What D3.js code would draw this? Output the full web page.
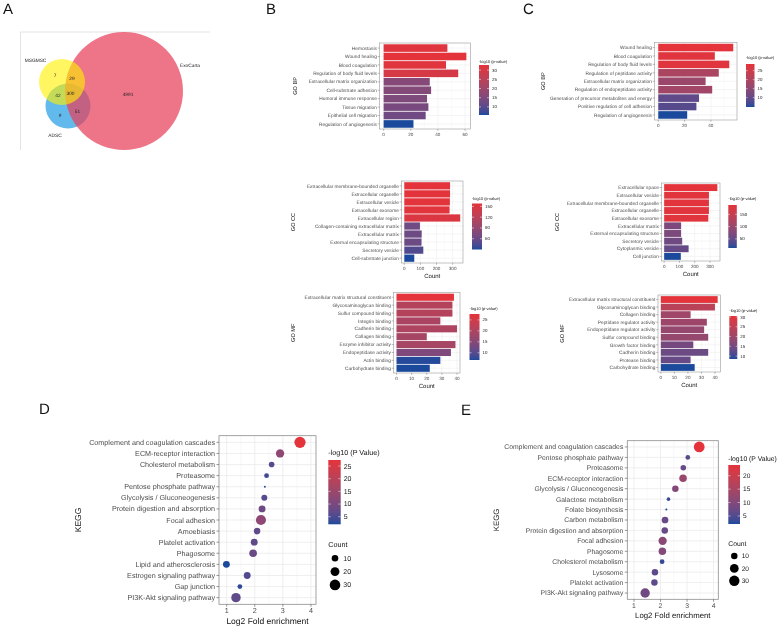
<!DOCTYPE html>
<html>
<head>
<meta charset="utf-8">
<script src="https://cdn.jsdelivr.net/npm/d3@7"></script>
<style>
  body { margin: 0; background: #fff; }
  svg { display: block; font-family: "Liberation Sans", Arial, Helvetica, sans-serif;
        -webkit-font-smoothing: antialiased; text-rendering: geometricPrecision; will-change: transform; }
</style>
</head>
<body>
<svg id="fig" width="781" height="628"></svg>
<script>
// ---- data ----
const vennSets = ["MSGMSC", "ADSC", "ExoCarta"];
const vennCounts = [7, 29, 42, 300, 9, 51, 4991]; // M only, M&E, M&A, all, A only, A&E, E only

const bpB_terms = ["Hemostasis", "Wound healing", "Blood coagulation", "Regulation of body fluid levels",
  "Extracellular matrix organization", "Cell-substrate adhesion", "Humoral immune response",
  "Tissue migration", "Epithelial cell migration", "Regulation of angiogenesis"];
const bpB_count = [47, 61, 46, 55, 34, 35, 32, 33, 31, 22];
const bpB_logp = [32, 32.8, 32, 30, 16, 15.5, 15, 14, 13, 5.6];

const ccB_terms = ["Extracellular membrane-bounded organelle", "Extracellular organelle", "Extracellular vesicle",
  "Extracellular exosome", "Extracellular region", "Collagen-containing extracellular matrix",
  "Extracellular matrix", "External encapsulating structure", "Secretory vesicle", "Cell-substrate junction"];
const ccB_count = [284, 284, 283, 281, 347, 97, 108, 107, 118, 62];
const ccB_logp = [158, 157, 157, 156, 150, 64, 63, 62, 48, 30];

const mfB_terms = ["Extracellular matrix structural constituent", "Glycosaminoglycan binding", "Sulfur compound binding",
  "Integrin binding", "Cadherin binding", "Collagen binding", "Enzyme inhibitor activity",
  "Endopeptidase activity", "Actin binding", "Carbohydrate binding"];
const mfB_count = [38, 37, 37, 29, 40, 20, 39, 36, 29, 22];
const mfB_logp = [27.7, 21, 21, 19.5, 20, 19, 19, 14, 7, 6.7];

const bpC_terms = ["Wound healing", "Blood coagulation", "Regulation of body fluid levels",
  "Regulation of peptidase activity", "Extracellular matrix organization", "Regulation of endopeptidase activity",
  "Generation of precursor metabolites and energy", "Positive regulation of cell adhesion", "Regulation of angiogenesis"];
const bpC_count = [57, 43, 54, 46, 36, 41, 31, 29, 22];
const bpC_logp = [28.7, 28, 28, 19.5, 17, 18, 9.5, 8.5, 4.8];

const ccC_terms = ["Extracellular space", "Extracellular vesicle", "Extracellular membrane-bounded organelle",
  "Extracellular organelle", "Extracellular exosome", "Extracellular matrix", "External encapsulating structure",
  "Secretory vesicle", "Cytoplasmic vesicle", "Cell junction"];
const ccC_count = [348, 293, 293, 293, 289, 111, 111, 118, 160, 109];
const ccC_logp = [188, 185, 185, 185, 184, 72, 71, 60, 52, 13];

const mfC_terms = ["Extracellular matrix structural constituent", "Glycosaminoglycan binding", "Collagen binding",
  "Peptidase regulator activity", "Endopeptidase regulator activity", "Sulfur compound binding",
  "Growth factor binding", "Cadherin binding", "Protease binding", "Carbohydrate binding"];
const mfC_count = [42, 40, 22, 34, 32, 35, 24, 35, 22, 25];
const mfC_logp = [30.5, 24, 20.5, 20, 19, 19, 15, 14, 13.5, 8.5];

const keggD_terms = ["Complement and coagulation cascades", "ECM-receptor interaction", "Cholesterol metabolism",
  "Proteasome", "Pentose phosphate pathway", "Glycolysis / Gluconeogenesis", "Protein digestion and absorption",
  "Focal adhesion", "Amoebiasis", "Platelet activation", "Phagosome", "Lipid and atherosclerosis",
  "Estrogen signaling pathway", "Gap junction", "PI3K-Akt signaling pathway"];
const keggD_fold = [3.61, 2.90, 2.60, 2.42, 2.36, 2.34, 2.26, 2.22, 2.08, 1.98, 1.94, 0.99, 1.73, 1.47, 1.33];
const keggD_count = [34, 17, 7, 5, 2, 8, 11, 27, 10, 11, 14, 11, 11, 5, 23];
const keggD_logp = [27.4, 13, 6, 4, 3, 6, 8.5, 13, 7, 7, 8, 2, 5.5, 3, 7];

const keggE_terms = ["Complement and coagulation cascades", "Pentose phosphate pathway", "Proteasome",
  "ECM-receptor interaction", "Glycolysis / Gluconeogenesis", "Galactose metabolism", "Folate biosynthesis",
  "Carbon metabolism", "Protein digestion and absorption", "Focal adhesion", "Phagosome",
  "Cholesterol metabolism", "Lysosome", "Platelet activation", "PI3K-Akt signaling pathway"];
const keggE_fold = [3.46, 3.03, 2.86, 2.85, 2.56, 2.30, 2.22, 2.17, 2.16, 2.08, 2.07, 2.06, 1.79, 1.77, 1.42];
const keggE_count = [33, 5, 7, 14, 10, 3, 2, 11, 10, 18, 14, 5, 10, 10, 24];
const keggE_logp = [24, 6, 7, 13, 10, 3, 2, 7, 7, 11, 10, 3, 6, 6, 8];

const sizeBreaks = [10, 20, 30];

// ---- helpers ----
const svg = d3.select("#fig");
const defs = svg.append("defs");
const lowCol = "#1b4a9c", highCol = "#e4333b";
const gridCol = "#ebebeb", textCol = "#4d4d4d";
let gradN = 0;

const colorScale = vals => d3.scaleLinear().domain(d3.extent(vals))
  .range([lowCol, highCol]).interpolate(d3.interpolateLab);

function colorbar(g, col, o) {
  const dom = col.domain();
  const y = d3.scaleLinear().domain(dom).range([o.y1, o.y0]);
  const id = "grad" + (gradN++);
  const lg = defs.append("linearGradient").attr("id", id)
    .attr("x1", 0).attr("x2", 0).attr("y1", 1).attr("y2", 0);
  d3.range(0, 1.0001, 0.05).forEach(t =>
    lg.append("stop").attr("offset", t).attr("stop-color", col(dom[0] + t * (dom[1] - dom[0]))));
  g.append("text").attr("x", o.x).attr("y", o.titleY).attr("dy", "0.35em")
    .attr("font-size", o.tfs).attr("fill", "#111").text(o.title);
  g.append("rect").attr("x", o.x).attr("y", o.y0).attr("width", o.w).attr("height", o.y1 - o.y0)
    .attr("fill", `url(#${id})`);
  o.ticks.forEach(v => {
    const yy = y(v);
    g.append("line").attr("x1", o.x).attr("x2", o.x + o.w * 0.2).attr("y1", yy).attr("y2", yy)
      .attr("stroke", "#fff").attr("stroke-width", 0.5);
    g.append("line").attr("x1", o.x + o.w * 0.8).attr("x2", o.x + o.w).attr("y1", yy).attr("y2", yy)
      .attr("stroke", "#fff").attr("stroke-width", 0.5);
    g.append("text").attr("x", o.x + o.w + o.gap).attr("y", yy).attr("dy", "0.35em")
      .attr("font-size", o.lfs).attr("fill", "#222").text(v);
  });
}

function minorOf(major, dom) {
  const step = major[1] - major[0];
  return [major[0] - step / 2].concat(major.map(v => v + step / 2))
    .filter(v => v > dom[0] && v < dom[1]);
}

function barPanel(o) {
  const g = svg.append("g");
  const max = d3.max(o.count);
  const x = d3.scaleLinear().domain([-0.05 * max, 1.05 * max]).range([o.x0, o.x1]);
  const y = d3.scaleBand().domain(o.terms).range([o.y0, o.y1]).paddingInner(0.1).paddingOuter(0.15);
  const col = colorScale(o.logp);
  const major = x.ticks(4);
  g.append("rect").attr("x", o.x0).attr("y", o.y0).attr("width", o.x1 - o.x0).attr("height", o.y1 - o.y0)
    .attr("fill", "#fff");
  minorOf(major, x.domain()).forEach(v => g.append("line").attr("x1", x(v)).attr("x2", x(v))
    .attr("y1", o.y0).attr("y2", o.y1).attr("stroke", "#f3f3f3").attr("stroke-width", 0.3));
  major.forEach(v => g.append("line").attr("x1", x(v)).attr("x2", x(v))
    .attr("y1", o.y0).attr("y2", o.y1).attr("stroke", gridCol).attr("stroke-width", 0.5));
  o.terms.forEach(t => g.append("line").attr("x1", o.x0).attr("x2", o.x1)
    .attr("y1", y(t) + y.bandwidth() / 2).attr("y2", y(t) + y.bandwidth() / 2)
    .attr("stroke", gridCol).attr("stroke-width", 0.5));
  g.selectAll(".bar").data(o.terms).enter().append("rect")
    .attr("x", x(0)).attr("y", d => y(d))
    .attr("width", (d, i) => x(o.count[i]) - x(0)).attr("height", y.bandwidth())
    .attr("fill", (d, i) => col(o.logp[i]));
  g.append("rect").attr("x", o.x0).attr("y", o.y0).attr("width", o.x1 - o.x0).attr("height", o.y1 - o.y0)
    .attr("fill", "none").attr("stroke", "#9a9a9a").attr("stroke-width", 0.6);
  // y labels
  o.terms.forEach(t => {
    const yy = y(t) + y.bandwidth() / 2;
    g.append("line").attr("x1", o.x0 - 1.8).attr("x2", o.x0).attr("y1", yy).attr("y2", yy)
      .attr("stroke", "#555").attr("stroke-width", 0.4);
    g.append("text").attr("x", o.x0 - 2.6).attr("y", yy).attr("dy", "0.35em").attr("text-anchor", "end")
      .attr("font-size", 4.8).attr("fill", textCol).text(t);
  });
  major.forEach(v => {
    g.append("line").attr("x1", x(v)).attr("x2", x(v)).attr("y1", o.y1).attr("y2", o.y1 + 1.8)
      .attr("stroke", "#555").attr("stroke-width", 0.4);
    g.append("text").attr("x", x(v)).attr("y", o.y1 + 5.5).attr("dy", "0.35em").attr("text-anchor", "middle")
      .attr("font-size", 4.6).attr("fill", textCol).text(v);
  });
  if (o.showCount) {
    g.append("text").attr("x", (o.x0 + o.x1) / 2).attr("y", o.y1 + 13).attr("dy", "0.35em")
      .attr("text-anchor", "middle").attr("font-size", 6).attr("fill", "#111").text("Count");
  }
  g.append("text").attr("transform", `translate(${o.titleX},${(o.y0 + o.y1) / 2}) rotate(-90)`)
    .attr("dy", "0.35em").attr("text-anchor", "middle").attr("font-size", 5.6).attr("fill", "#111").text(o.title);
  colorbar(g, col, Object.assign({ title: "-log10 (p-value)", tfs: 4, lfs: 4.4, gap: 3 }, o.leg));
}

function dotPanel(o) {
  const g = svg.append("g");
  const x = d3.scaleLinear().domain(o.xdom).range([o.x0, o.x1]);
  const y = d3.scalePoint().domain(o.terms).range([o.y0, o.y1]).padding(0.6);
  const col = colorScale(o.logp);
  const cExt = d3.extent(o.count);
  const rLin = d3.scaleLinear().domain([0, 1]).range([1, o.rmax]);
  const r = c => rLin(Math.sqrt((c - cExt[0]) / (cExt[1] - cExt[0])));
  const major = [1, 2, 3, 4];
  g.append("rect").attr("x", o.x0).attr("y", o.y0).attr("width", o.x1 - o.x0).attr("height", o.y1 - o.y0)
    .attr("fill", "#fff");
  minorOf(major, x.domain()).forEach(v => g.append("line").attr("x1", x(v)).attr("x2", x(v))
    .attr("y1", o.y0).attr("y2", o.y1).attr("stroke", "#f2f2f2").attr("stroke-width", 0.5));
  major.forEach(v => g.append("line").attr("x1", x(v)).attr("x2", x(v))
    .attr("y1", o.y0).attr("y2", o.y1).attr("stroke", gridCol).attr("stroke-width", 0.8));
  o.terms.forEach(t => g.append("line").attr("x1", o.x0).attr("x2", o.x1)
    .attr("y1", y(t)).attr("y2", y(t)).attr("stroke", gridCol).attr("stroke-width", 0.8));
  g.selectAll(".dot").data(o.terms).enter().append("circle")
    .attr("cx", (d, i) => x(o.fold[i])).attr("cy", d => y(d))
    .attr("r", (d, i) => r(o.count[i])).attr("fill", (d, i) => col(o.logp[i]));
  g.append("rect").attr("x", o.x0).attr("y", o.y0).attr("width", o.x1 - o.x0).attr("height", o.y1 - o.y0)
    .attr("fill", "none").attr("stroke", "#8c8c8c").attr("stroke-width", 0.8);
  o.terms.forEach(t => {
    g.append("line").attr("x1", o.x0 - 2.5).attr("x2", o.x0).attr("y1", y(t)).attr("y2", y(t))
      .attr("stroke", "#555").attr("stroke-width", 0.6);
    g.append("text").attr("x", o.x0 - 4).attr("y", y(t)).attr("dy", "0.35em").attr("text-anchor", "end")
      .attr("font-size", o.fs).attr("fill", textCol).text(t);
  });
  major.forEach(v => {
    g.append("line").attr("x1", x(v)).attr("x2", x(v)).attr("y1", o.y1).attr("y2", o.y1 + 2.5)
      .attr("stroke", "#555").attr("stroke-width", 0.6);
    g.append("text").attr("x", x(v)).attr("y", o.y1 + 6.5).attr("dy", "0.35em").attr("text-anchor", "middle")
      .attr("font-size", o.fs).attr("fill", textCol).text(v);
  });
  g.append("text").attr("x", (o.x0 + o.x1) / 2).attr("y", o.xTitleY).attr("dy", "0.35em")
    .attr("text-anchor", "middle").attr("font-size", o.tfs).attr("fill", "#111").text("Log2 Fold enrichment");
  g.append("text").attr("transform", `translate(${o.yTitleX},${(o.y0 + o.y1) / 2}) rotate(-90)`)
    .attr("dy", "0.35em").attr("text-anchor", "middle").attr("font-size", o.tfs).attr("fill", "#111").text("KEGG");
  colorbar(g, col, Object.assign({ title: "-log10 (P Value)", gap: 3 }, o.leg));
  const s = o.sizeLeg;
  g.append("text").attr("x", s.x).attr("y", s.titleY).attr("dy", "0.35em").attr("font-size", o.leg.tfs)
    .attr("fill", "#111").text("Count");
  sizeBreaks.forEach((c, i) => {
    g.append("circle").attr("cx", s.cx).attr("cy", s.y0 + i * s.dy).attr("r", r(c)).attr("fill", "#000");
    g.append("text").attr("x", s.lx).attr("y", s.y0 + i * s.dy).attr("dy", "0.35em")
      .attr("font-size", o.leg.lfs).attr("fill", "#222").text(c);
  });
}

// ---- panel letters ----
[["A", 3, 14], ["B", 266, 14], ["C", 523, 14], ["D", 39, 414], ["E", 461, 415]].forEach(([t, x, y]) =>
  svg.append("text").attr("x", x).attr("y", y).attr("font-size", 15).attr("fill", "#111").text(t));

// ---- A: Venn ----
const venn = svg.append("g");
venn.append("path").attr("d", "M210,32H20.5V150").attr("fill", "none").attr("stroke", "#dcdcdc").attr("stroke-width", 0.8);
const circles = [
  { cx: 68, cy: 106, r: 22.5, fill: "#1f9be3", op: 0.7 },
  { cx: 124, cy: 91, r: 59, fill: "#e8405a", op: 0.72 },
  { cx: 62, cy: 82, r: 23, fill: "#fff000", op: 0.62 }
];
venn.selectAll("circle").data(circles).enter().append("circle")
  .attr("cx", d => d.cx).attr("cy", d => d.cy).attr("r", d => d.r)
  .attr("fill", d => d.fill).attr("fill-opacity", d => d.op);
const vennPos = [[55, 75], [72, 78], [58, 95], [70.5, 93], [60, 115], [77.5, 111], [128, 94.5]];
vennCounts.forEach((v, i) => venn.append("text").attr("x", vennPos[i][0]).attr("y", vennPos[i][1])
  .attr("dy", "0.35em").attr("text-anchor", "middle").attr("font-size", 4.8).attr("fill", "#222").text(v));
[[35.5, 60], [55, 135], [190, 65]].forEach((p, i) => venn.append("text").attr("x", p[0]).attr("y", p[1])
  .attr("dy", "0.35em").attr("text-anchor", "middle").attr("font-size", 4.8).attr("fill", "#222").text(vennSets[i]));

// ---- B ----
barPanel({ terms: bpB_terms, count: bpB_count, logp: bpB_logp, x0: 379.5, x1: 470.5, y0: 43, y1: 129,
  title: "GO BP", titleX: 295, showCount: false,
  leg: { x: 479, w: 10, y0: 65, y1: 115, titleY: 61.5, ticks: [10, 15, 20, 25, 30] } });
barPanel({ terms: ccB_terms, count: ccB_count, logp: ccB_logp, x0: 401.5, x1: 463, y0: 181, y1: 263,
  title: "GO CC", titleX: 293, showCount: true,
  leg: { x: 472, w: 10, y0: 203.5, y1: 249.5, titleY: 199, ticks: [60, 90, 120, 150] } });
barPanel({ terms: mfB_terms, count: mfB_count, logp: mfB_logp, x0: 393.5, x1: 460, y0: 292.5, y1: 373,
  title: "GO MF", titleX: 293, showCount: true,
  leg: { x: 469.5, w: 10, y0: 314, y1: 360, titleY: 309, ticks: [10, 15, 20, 25] } });

// ---- C ----
barPanel({ terms: bpC_terms, count: bpC_count, logp: bpC_logp, x0: 654.5, x1: 737, y0: 42.5, y1: 120,
  title: "GO BP", titleX: 543, showCount: false,
  leg: { x: 746, w: 8.5, y0: 64, y1: 107, titleY: 58, ticks: [10, 15, 20, 25] } });
barPanel({ terms: ccC_terms, count: ccC_count, logp: ccC_logp, x0: 661.5, x1: 720, y0: 183, y1: 261,
  title: "GO CC", titleX: 557, showCount: true,
  leg: { x: 728.3, w: 8.5, y0: 205, y1: 248, titleY: 199, ticks: [50, 100, 150] } });
barPanel({ terms: mfC_terms, count: mfC_count, logp: mfC_logp, x0: 658, x1: 720.5, y0: 295, y1: 372,
  title: "GO MF", titleX: 561.7, showCount: true,
  leg: { x: 729.3, w: 8, y0: 316, y1: 359, titleY: 310.7, ticks: [10, 15, 20, 25, 30] } });

// ---- D ----
dotPanel({ terms: keggD_terms, fold: keggD_fold, count: keggD_count, logp: keggD_logp,
  xdom: [0.726, 4.18], x0: 219, x1: 316, y0: 435.7, y1: 604.3, fs: 7.2, tfs: 8.5, rmax: 5.6,
  xTitleY: 621, yTitleX: 78.3,
  leg: { x: 328.3, w: 12.4, y0: 460, y1: 524.3, titleY: 452.7, ticks: [5, 10, 15, 20, 25], tfs: 7.2, lfs: 7 },
  sizeLeg: { x: 328.3, titleY: 544.3, cx: 335, lx: 343.3, y0: 558.3, dy: 13.3 } });

// ---- E ----
dotPanel({ terms: keggE_terms, fold: keggE_fold, count: keggE_count, logp: keggE_logp,
  xdom: [0.747, 4.18], x0: 627.3, x1: 718.3, y0: 440.7, y1: 599.3, fs: 6.8, tfs: 7.8, rmax: 5.4,
  xTitleY: 615, yTitleX: 496,
  leg: { x: 728.3, w: 11.7, y0: 465, y1: 524, titleY: 458.3, ticks: [5, 10, 15, 20], tfs: 6.8, lfs: 6.6 },
  sizeLeg: { x: 728.3, titleY: 544, cx: 734.3, lx: 741.7, y0: 556, dy: 12.4 } });
</script>
</body>
</html>
